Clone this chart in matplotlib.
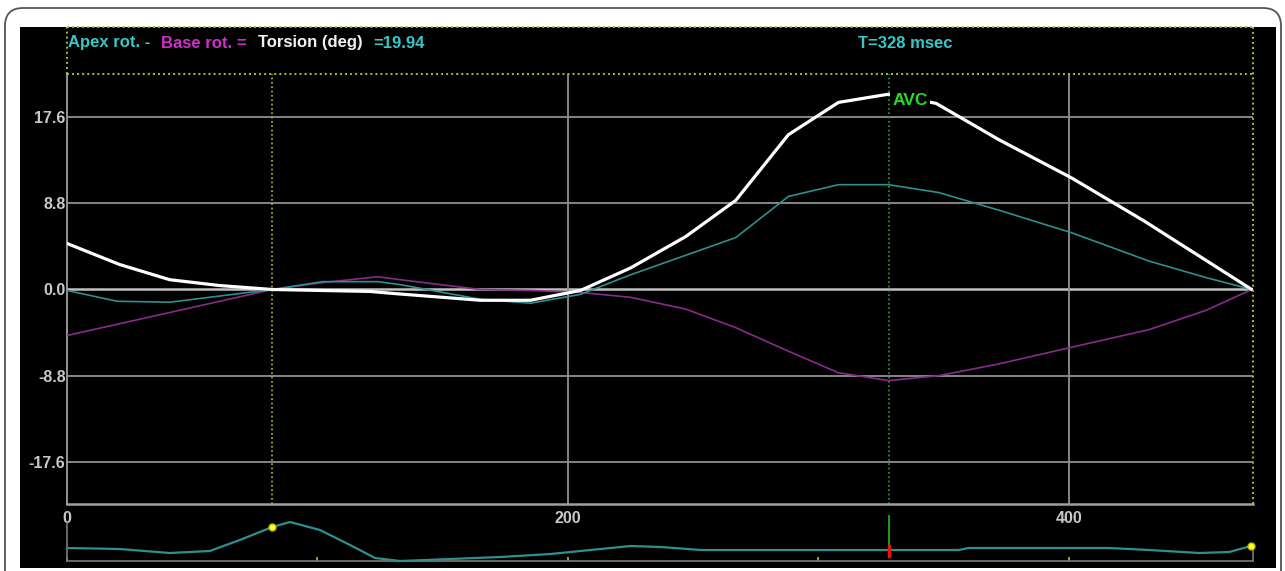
import matplotlib
matplotlib.use('Agg')
import matplotlib.pyplot as plt
from matplotlib.patches import FancyBboxPatch, Rectangle
from matplotlib.transforms import IdentityTransform

# rotation curves, time in msec, angle in degrees
apex_t = [0, 20, 41, 82, 102, 124, 133, 165, 185, 205, 225, 267, 288, 308, 328, 348, 372, 401, 432, 455, 473]
apex_rot = [-0.1, -1.2, -1.3, 0.0, 0.8, 0.8, 0.5, -1.0, -1.4, -0.5, 1.5, 5.3, 9.5, 10.7, 10.7, 9.9, 8.1, 5.8, 2.9, 1.2, 0.0]

base_t = [0, 82, 102, 124, 133, 165, 185, 205, 225, 247, 267, 288, 308, 328, 348, 372, 401, 432, 455, 473]
base_rot = [-4.7, 0.0, 0.7, 1.3, 1.0, 0.0, -0.1, -0.3, -0.8, -2.0, -3.9, -6.3, -8.5, -9.3, -8.8, -7.6, -5.9, -4.1, -2.1, 0.0]

tors_t = [0, 21, 41, 61, 82, 121, 130, 165, 185, 205, 225, 247, 267, 288, 308, 328, 347, 372, 401, 430, 473]
torsion = [4.7, 2.55, 1.0, 0.4, 0.0, -0.2, -0.4, -1.1, -1.1, -0.1, 2.2, 5.4, 9.1, 15.8, 19.1, 19.94, 19.0, 15.3, 11.4, 7.0, 0.0]

# ecg strip (arbitrary amplitude)
ecg_t = [0, 21, 41, 57, 69, 82, 89, 101, 113, 123, 133, 153, 173, 193, 213, 225, 237, 253, 293, 328, 356, 360, 372, 416, 432, 452, 464, 472.7]
ecg_amp = [13, 12, 8, 10, 21, 34, 39, 31, 16, 3, 0, 2, 4, 7, 12, 15, 14, 11, 11, 11, 11, 13, 13, 13, 11, 8, 9, 15]

yticks = [-17.6, -8.8, 0.0, 8.8, 17.6]
ytick_labels = ['-17.6', '-8.8', '0.0', '8.8', '17.6']
xticks = [0, 200, 400]
avc_t = 328
torsion_peak = 19.94

W, H = 1285, 571
fig = plt.figure(figsize=(W / 100, H / 100), dpi=100)
fig.patch.set_facecolor('white')

def fx(px):
    return px / W

def fy(py):
    return (H - py) / H

# outer frame and black panel (pixel coords)
fig.add_artist(FancyBboxPatch((5, -30), 1276, 593, boxstyle='round,pad=0,rounding_size=18',
                              transform=IdentityTransform(), facecolor='white', edgecolor='#555555',
                              lw=1.3, zorder=-3))
fig.add_artist(Rectangle((20, H - 568), 1256, 541, transform=IdentityTransform(),
                         facecolor='black', edgecolor='none', zorder=-2))

grey = '#8f8f8f'
label_grey = '#c8c8c8'
yellow = '#b8b83a'
dot = (0, (1, 1.6))
tick_font = dict(family=['Liberation Sans', 'DejaVu Sans'], size=11.5, weight='bold')

ax = fig.add_axes([fx(67), fy(504), fx(1253 - 67), (504 - 74) / H])
ax.set_facecolor('black')
ax.set_xlim(0, 473.5)
ax.set_ylim(-21.9, 22.0)

for s in ['top', 'right']:
    ax.spines[s].set_visible(False)
ax.spines['left'].set_color('#a0a0a0')
ax.spines['bottom'].set_color('#a0a0a0')
ax.spines['left'].set_linewidth(1.3)
ax.spines['bottom'].set_linewidth(1.8)

for y in yticks:
    ax.axhline(y, color='#c0c0c0' if y == 0 else grey, lw=1.8 if y == 0 else 1.3, zorder=1)
for x in xticks[1:]:
    ax.axvline(x, color=grey, lw=1.3, zorder=1)

ax.set_yticks(yticks)
ax.set_yticklabels(ytick_labels, fontdict=tick_font, color=label_grey)
ax.set_xticks(xticks)
ax.set_xticklabels([str(x) for x in xticks], fontdict=tick_font, color=label_grey)
ax.tick_params(axis='both', length=0)
ax.tick_params(axis='y', pad=1)
ax.tick_params(axis='x', pad=5)

ax.plot(base_t, base_rot, color='#8a2a8c', lw=1.2, zorder=3)
ax.plot(apex_t, apex_rot, color='#2f8f8f', lw=1.2, zorder=4)
ax.plot(tors_t, torsion, color='white', lw=2.3, zorder=5, solid_joinstyle='round')

# markers
ax.axvline(82, color=yellow, lw=1.2, ls=dot, zorder=2)
ax.axvline(avc_t, color='#2aa04a', lw=1.2, ls=dot, zorder=2)
ax.axhline(22.0, color=yellow, lw=1.4, ls=dot, clip_on=False, zorder=6)
ax.text(avc_t + 1.5, 19.3, 'AVC', color='#22dd22', fontsize=12.5, weight='bold',
        family=['Liberation Sans', 'DejaVu Sans'], va='center', ha='left', zorder=7,
        bbox=dict(facecolor='black', edgecolor='none', pad=1.5))

# header box
hdr = fig.add_axes([fx(67), fy(74), fx(1253 - 67), (74 - 27) / H])
hdr.axis('off')
hdr.set_xlim(0, 1)
hdr.set_ylim(0, 1)
hdr.plot([0, 1], [1, 1], color=yellow, lw=1.4, ls=dot, clip_on=False)
hdr.plot([0, 0], [0, 1], color=yellow, lw=1.4, ls=dot, clip_on=False)
fig.add_artist(plt.Line2D([fx(1253), fx(1253)], [fy(504), fy(27)], color=yellow, lw=1.4, ls=dot))

hfont = dict(family=['Liberation Sans', 'DejaVu Sans'], size=12, weight='bold')
pieces = [('Apex rot. -', '#35c8c8'), ('Base rot. =', '#d030c8'),
          ('Torsion (deg)', '#f2f2f2'), ('=%.2f' % torsion_peak, '#35c8c8')]
t = fig.text(fx(68), fy(43), pieces[0][0], color=pieces[0][1], va='center', ha='left', **hfont)
for txt, col in pieces[1:]:
    t = hdr.annotate(txt, xycoords=t, xy=(1, 0), xytext=(8, 0), textcoords='offset points',
                     va='bottom', ha='left', color=col, **hfont)
fig.text(fx(905), fy(43), 'T=%d msec' % avc_t, color='#35c8c8', va='center', ha='center', **hfont)

# ecg strip
ecg = fig.add_axes([fx(67), fy(561), fx(1253 - 67), 46 / H])
ecg.set_facecolor('none')
ecg.set_xlim(0, 473.5)
ecg.set_ylim(0, 46)
ecg.spines['top'].set_visible(False)
ecg.spines['left'].set_bounds(0, 38)
ecg.spines['right'].set_bounds(0, 16)
for s in ['left', 'right', 'bottom']:
    ecg.spines[s].set_color('#7a7a7a')
    ecg.spines[s].set_linewidth(1.2)
ecg.set_yticks([])
ecg.set_xticks([0, 100, 200, 300, 400])
ecg.set_xticklabels([])
ecg.tick_params(axis='x', direction='in', length=3, color=yellow, width=1.2)
ecg.plot(ecg_t, ecg_amp, color='#2f8f8f', lw=1.6, clip_on=False, zorder=3)
ecg.plot([avc_t, avc_t], [15, 45], color='#22bb22', lw=1.2, zorder=4)
ecg.plot([avc_t, avc_t], [5, 15], color='#ee1111', lw=2.5, zorder=5)
ecg.plot([82, ecg_t[-1]], [34, 15], 'o', ms=5, mfc='#ffff33', mec='#bbbb00', clip_on=False, zorder=6)

fig.savefig('out.png', dpi=100, facecolor=fig.get_facecolor())
